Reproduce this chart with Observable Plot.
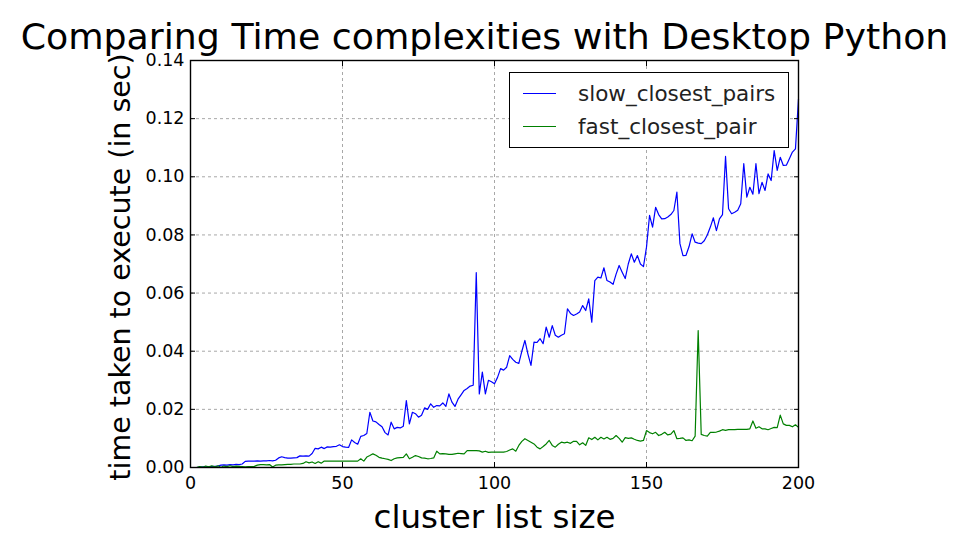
<!DOCTYPE html>
<html>
<head>
<meta charset="utf-8">
<script src="https://cdn.jsdelivr.net/npm/d3@7"></script>
<script src="https://cdn.jsdelivr.net/npm/@observablehq/plot@0.6"></script>
<style>
  html, body { margin: 0; padding: 0; background: #fff; }
  #wrap { position: relative; width: 958px; height: 553px; font-family: "DejaVu Sans", sans-serif; }
  #legend { position: absolute; left: 509px; top: 72px; width: 280px; height: 76px; border: 1.5px solid #000; background: #fff; box-sizing: border-box; }
  .li { position: absolute; left: 13px; height: 24px; display: flex; align-items: center; font-size: 21.5px; color: #222; white-space: nowrap; }
  .li span.sw { display: inline-block; width: 33px; height: 0; border-top: 1.5px solid; margin-right: 22px; }
</style>
</head>
<body>
<div id="wrap"></div>
<script>
const title = "Comparing Time complexities with Desktop Python";
const xLabel = "cluster list size";
const yLabel = "time taken to execute (in sec)";
const seriesNames = ["slow_closest_pairs", "fast_closest_pair"];
const seriesColors = ["#0000ff", "#008000"];
const xTicks = [0, 50, 100, 150, 200];
const yTicks = [0, 0.02, 0.04, 0.06, 0.08, 0.10, 0.12, 0.14];

const sizes = d3.range(2, 201);

const slowTimes = [
  0.0000,0.0001,0.0002,0.0002,0.0003,0.0003,0.0004,0.0005,0.0008,0.0009,
  0.0008,0.0010,0.0009,0.0011,0.0010,0.0012,0.0021,0.0022,0.0022,0.0022,
  0.0023,0.0022,0.0023,0.0023,0.0024,0.0023,0.0025,0.0033,0.0037,0.0034,
  0.0032,0.0032,0.0033,0.0034,0.0040,0.0039,0.0040,0.0039,0.0048,0.0066,
  0.0064,0.0070,0.0065,0.0071,0.0070,0.0072,0.0073,0.0078,0.0072,0.0070,
  0.0069,0.0095,0.0086,0.0080,0.0107,0.0110,0.0117,0.0190,0.0160,0.0157,
  0.0148,0.0140,0.0120,0.0112,0.0156,0.0133,0.0138,0.0136,0.0142,0.0230,
  0.0150,0.0190,0.0185,0.0173,0.0180,0.0205,0.0200,0.0219,0.0207,0.0213,
  0.0212,0.0222,0.0210,0.0253,0.0225,0.0210,0.0235,0.0250,0.0265,0.0272,
  0.0280,0.0283,0.0670,0.0253,0.0328,0.0253,0.0300,0.0295,0.0288,0.0310,
  0.0340,0.0335,0.0345,0.0385,0.0372,0.0362,0.0358,0.0400,0.0437,0.0390,
  0.0351,0.0431,0.0430,0.0443,0.0426,0.0483,0.0448,0.0488,0.0455,0.0448,
  0.0455,0.0460,0.0546,0.0530,0.0523,0.0528,0.0535,0.0557,0.0540,0.0580,
  0.0500,0.0643,0.0655,0.0652,0.0687,0.0643,0.0638,0.0630,0.0665,0.0695,
  0.0672,0.0650,0.0700,0.0735,0.0706,0.0729,0.0700,0.0691,0.0758,0.0867,
  0.0827,0.0895,0.0870,0.0855,0.0856,0.0862,0.0870,0.0884,0.0947,0.0770,
  0.0729,0.0730,0.0760,0.0804,0.0775,0.0772,0.0770,0.0780,0.0800,0.0827,
  0.0859,0.0815,0.0855,0.0870,0.1070,0.0890,0.0873,0.0878,0.0885,0.0907,
  0.1045,0.0930,0.0964,0.0940,0.1045,0.0942,0.0981,0.0953,0.1010,0.0987,
  0.1090,0.1022,0.1067,0.1039,0.1040,0.1062,0.1085,0.1096,0.1268
];

const fastTimes = [
  0.0000,0.0003,0.0001,0.0005,0.0002,0.0006,0.0002,0.0006,0.0001,0.0005,
  0.0003,0.0006,0.0003,0.0005,0.0004,0.0003,0.0002,0.0003,0.0003,0.0004,
  0.0008,0.0010,0.0010,0.0009,0.0010,0.0002,0.0008,0.0009,0.0009,0.0010,
  0.0011,0.0011,0.0012,0.0012,0.0012,0.0014,0.0020,0.0016,0.0019,0.0014,
  0.0020,0.0015,0.0022,0.0022,0.0022,0.0022,0.0022,0.0022,0.0022,0.0022,
  0.0022,0.0022,0.0022,0.0022,0.0030,0.0022,0.0036,0.0041,0.0047,0.0042,
  0.0035,0.0032,0.0030,0.0028,0.0024,0.0030,0.0033,0.0034,0.0035,0.0047,
  0.0030,0.0035,0.0041,0.0038,0.0033,0.0032,0.0030,0.0031,0.0033,0.0056,
  0.0047,0.0048,0.0047,0.0045,0.0045,0.0047,0.0049,0.0048,0.0047,0.0058,
  0.0058,0.0058,0.0058,0.0057,0.0053,0.0056,0.0052,0.0053,0.0053,0.0053,
  0.0053,0.0053,0.0055,0.0060,0.0064,0.0056,0.0076,0.0090,0.0099,0.0093,
  0.0087,0.0081,0.0070,0.0064,0.0072,0.0081,0.0093,0.0076,0.0070,0.0080,
  0.0087,0.0085,0.0087,0.0083,0.0090,0.0090,0.0078,0.0085,0.0076,0.0102,
  0.0096,0.0104,0.0095,0.0104,0.0098,0.0104,0.0097,0.0100,0.0110,0.0100,
  0.0087,0.0103,0.0100,0.0102,0.0097,0.0093,0.0091,0.0093,0.0127,0.0120,
  0.0116,0.0121,0.0110,0.0114,0.0121,0.0112,0.0115,0.0127,0.0099,0.0100,
  0.0102,0.0093,0.0095,0.0092,0.0108,0.0471,0.0114,0.0110,0.0108,0.0121,
  0.0121,0.0122,0.0125,0.0130,0.0128,0.0130,0.0130,0.0130,0.0131,0.0131,
  0.0131,0.0131,0.0133,0.0160,0.0135,0.0140,0.0133,0.0133,0.0130,0.0134,
  0.0138,0.0137,0.0180,0.0150,0.0145,0.0145,0.0140,0.0147,0.0138
];

const rows = [];
sizes.forEach((n, i) => rows.push({n, t: slowTimes[i], s: seriesNames[0]}));
sizes.forEach((n, i) => rows.push({n, t: fastTimes[i], s: seriesNames[1]}));

const font = "DejaVu Sans, sans-serif";
const noLabel = () => "";
const chart = Plot.plot({
  width: 958,
  height: 553,
  marginLeft: 190,
  marginRight: 160,
  marginTop: 60,
  marginBottom: 86,
  style: {fontFamily: font, fontSize: "17.5px", color: "#000", background: "#fff", overflow: "visible"},
  x: {domain: [0, 200]},
  y: {domain: [0, 0.14]},
  color: {domain: seriesNames, range: seriesColors},
  marks: [
    Plot.gridX(xTicks.slice(1, -1), {stroke: "#a8a8a8", strokeOpacity: 1, strokeDasharray: "3,3"}),
    Plot.gridY(yTicks.slice(1, -1), {stroke: "#a8a8a8", strokeOpacity: 1, strokeDasharray: "3,3"}),
    Plot.lineY(rows, {x: "n", y: "t", z: "s", stroke: "s", strokeWidth: 1.2}),
    Plot.axisX({ticks: xTicks, tickSize: -5, tickPadding: 14, tickFormat: d => String(d), label: null}),
    Plot.axisX({anchor: "top", ticks: xTicks, tickSize: -5, tickFormat: noLabel, label: null}),
    Plot.axisY({ticks: yTicks, tickSize: -5, tickPadding: 11, tickFormat: d3.format(".2f"), label: null}),
    Plot.axisY({anchor: "right", ticks: yTicks, tickSize: -5, tickFormat: noLabel, label: null}),
    Plot.frame({stroke: "#000", strokeWidth: 1.4}),
    Plot.text([title], {frameAnchor: "top", lineAnchor: "bottom", textAnchor: "middle", dx: -10, dy: -12, fontSize: 36.3, fill: "#000"}),
    Plot.text([xLabel], {frameAnchor: "bottom", lineAnchor: "bottom", textAnchor: "middle", dy: 60, fontSize: 32.5, fill: "#000"}),
    Plot.text([yLabel], {frameAnchor: "left", lineAnchor: "bottom", textAnchor: "middle", rotate: -90, dx: -61, dy: 3, fontSize: 28.5, fill: "#000"})
  ]
});
const wrap = document.getElementById("wrap");
wrap.appendChild(chart);

const legend = document.createElement("div");
legend.id = "legend";
seriesNames.forEach((name, i) => {
  const item = document.createElement("div");
  item.className = "li";
  item.style.top = (8 + i * 33) + "px";
  const sw = document.createElement("span");
  sw.className = "sw";
  sw.style.borderTopColor = seriesColors[i];
  item.appendChild(sw);
  item.appendChild(document.createTextNode(name));
  legend.appendChild(item);
});
wrap.appendChild(legend);
</script>
</body>
</html>
